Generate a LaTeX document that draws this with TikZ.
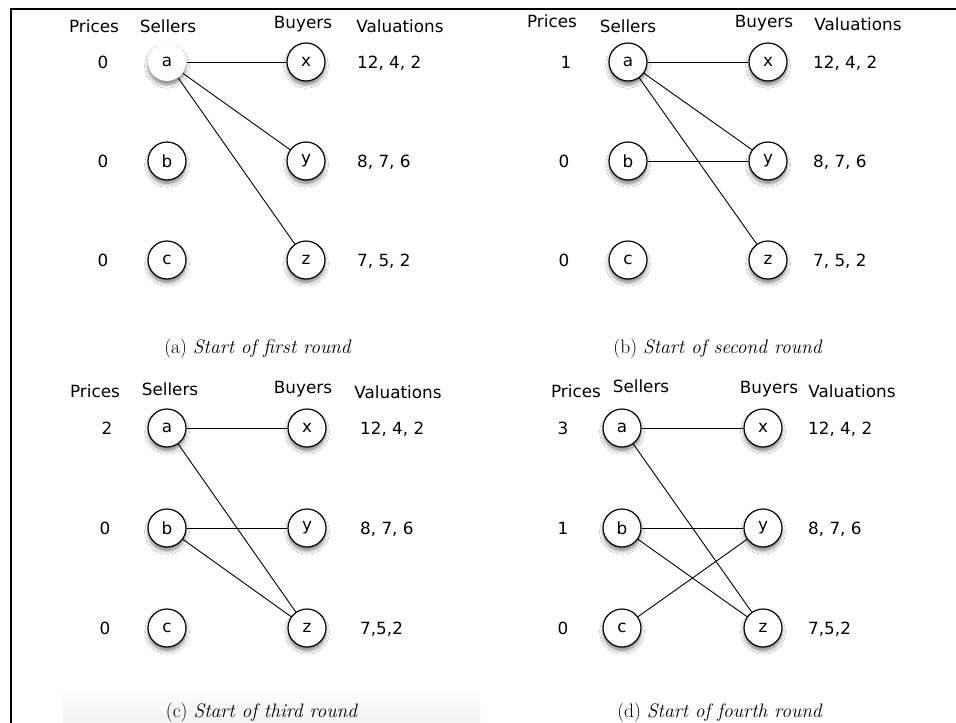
\documentclass[tikz,border=0pt]{standalone}
\usepackage{fontspec}
\newfontfamily\lab{DejaVu Sans}
\usetikzlibrary{shadows.blur}
\tikzset{
  lbl/.style={font=\lab\fontsize{16.8}{19}\selectfont, inner sep=0pt, anchor=base},
  val/.style={font=\lab\fontsize{16.8}{19}\selectfont, inner sep=0pt, anchor=base west},
  vnode/.style={circle, draw, line width=1.2pt, minimum size=38pt, inner sep=0pt, fill=white,
    font=\lab\fontsize{16.8}{19}\selectfont,
    blur shadow={shadow xshift=0pt, shadow yshift=-4pt, shadow scale=0.97, shadow blur radius=4pt, shadow blur steps=8, shadow opacity=55}},
  link/.style={line width=0.9pt},
  capt/.style={font=\fontsize{19.5}{22}\selectfont, inner sep=0pt, anchor=center}
}
\begin{document}
\begin{tikzpicture}[x=1pt,y=-1pt]
\useasboundingbox (0,0) rectangle (956,723);
\fill[white] (0,0) rectangle (956,723);
\shade[top color=white, bottom color=black!5] (63,686) rectangle (480,723);
\draw[line width=2pt] (10.5,723) -- (10.5,9) -- (956,9);

% ---------- panel (a)
\node[lbl] (ha1) at (94,32) {Prices};
\node[lbl] (hs1) at (168,32) {Sellers};
\node[lbl] (hb1) at (303,28) {Buyers};
\node[lbl] (hv1) at (400,32) {Valuations};
\node[lbl] (pa1) at (103,68) {0};
\node[lbl] (pb1) at (103,167) {0};
\node[lbl] (pc1) at (103,266) {0};
\node[vnode, draw=none] (a1) at (167,62) {a};
\node[vnode] (b1) at (167,161) {b};
\node[vnode] (c1) at (167,260) {c};
\node[vnode] (x1) at (306,62) {x};
\node[vnode] (y1) at (306,161) {y};
\node[vnode] (z1) at (306,260) {z};
\node[val] (vx1) at (357,68) {12, 4, 2};
\node[val] (vy1) at (357,167) {8, 7, 6};
\node[val] (vz1) at (357,266) {7, 5, 2};
\draw[link] (a1) -- (x1);
\draw[link] (a1) -- (y1);
\draw[link] (a1) -- (z1);
\node[capt] (ca) at (258,349) {(a) \textit{Start of first round}};

% ---------- panel (b)
\node[lbl] (ha2) at (552,27) {Prices};
\node[lbl] (hs2) at (628,32) {Sellers};
\node[lbl] (hb2) at (764,27) {Buyers};
\node[lbl] (hv2) at (858,30) {Valuations};
\node[lbl] (pa2) at (566,68) {1};
\node[lbl] (pb2) at (564,167) {0};
\node[lbl] (pc2) at (564,266) {0};
\node[vnode] (a2) at (628,62) {a};
\node[vnode] (b2) at (628,161) {b};
\node[vnode] (c2) at (628,260) {c};
\node[vnode] (x2) at (768,62) {x};
\node[vnode] (y2) at (768,161) {y};
\node[vnode] (z2) at (768,260) {z};
\node[val] (vx2) at (813,68) {12, 4, 2};
\node[val] (vy2) at (813,167) {8, 7, 6};
\node[val] (vz2) at (813,266) {7, 5, 2};
\draw[link] (a2) -- (x2);
\draw[link] (a2) -- (y2);
\draw[link] (a2) -- (z2);
\draw[link] (b2) -- (y2);
\node[capt] (cb) at (718,349) {(b) \textit{Start of second round}};

% ---------- panel (c)
\node[lbl] (ha3) at (95,397) {Prices};
\node[lbl] (hs3) at (170,395) {Sellers};
\node[lbl] (hb3) at (303,393) {Buyers};
\node[lbl] (hv3) at (398,398) {Valuations};
\node[lbl] (pa3) at (107,434) {2};
\node[lbl] (pb3) at (105,534) {0};
\node[lbl] (pc3) at (105,634) {0};
\node[vnode] (a3) at (167,428) {a};
\node[vnode] (b3) at (167,528) {b};
\node[vnode] (c3) at (167,628) {c};
\node[vnode] (x3) at (307,428) {x};
\node[vnode] (y3) at (307,528) {y};
\node[vnode] (z3) at (307,628) {z};
\node[val] (vx3) at (360,434) {12, 4, 2};
\node[val] (vy3) at (360,534) {8, 7, 6};
\node[val] (vz3) at (360,634) {7,5,2};
\draw[link] (a3) -- (x3);
\draw[link] (a3) -- (z3);
\draw[link] (b3) -- (y3);
\draw[link] (b3) -- (z3);
\node[capt] (cc) at (262,713) {(c) \textit{Start of third round}};

% ---------- panel (d)
\node[lbl] (ha4) at (576,397) {Prices};
\node[lbl] (hs4) at (641,392) {Sellers};
\node[lbl] (hb4) at (769,393) {Buyers};
\node[lbl] (hv4) at (852,397) {Valuations};
\node[lbl] (pa4) at (563,434) {3};
\node[lbl] (pb4) at (563,534) {1};
\node[lbl] (pc4) at (563,634) {0};
\node[vnode] (a4) at (622,428) {a};
\node[vnode] (b4) at (622,528) {b};
\node[vnode] (c4) at (622,628) {c};
\node[vnode] (x4) at (763,428) {x};
\node[vnode] (y4) at (763,528) {y};
\node[vnode] (z4) at (763,628) {z};
\node[val] (vx4) at (808,434) {12, 4, 2};
\node[val] (vy4) at (808,534) {8, 7, 6};
\node[val] (vz4) at (808,634) {7,5,2};
\draw[link] (a4) -- (x4);
\draw[link] (a4) -- (z4);
\draw[link] (b4) -- (y4);
\draw[link] (b4) -- (z4);
\draw[link] (c4) -- (y4);
\node[capt] (cd) at (720,713) {(d) \textit{Start of fourth round}};
\end{tikzpicture}
\end{document}
